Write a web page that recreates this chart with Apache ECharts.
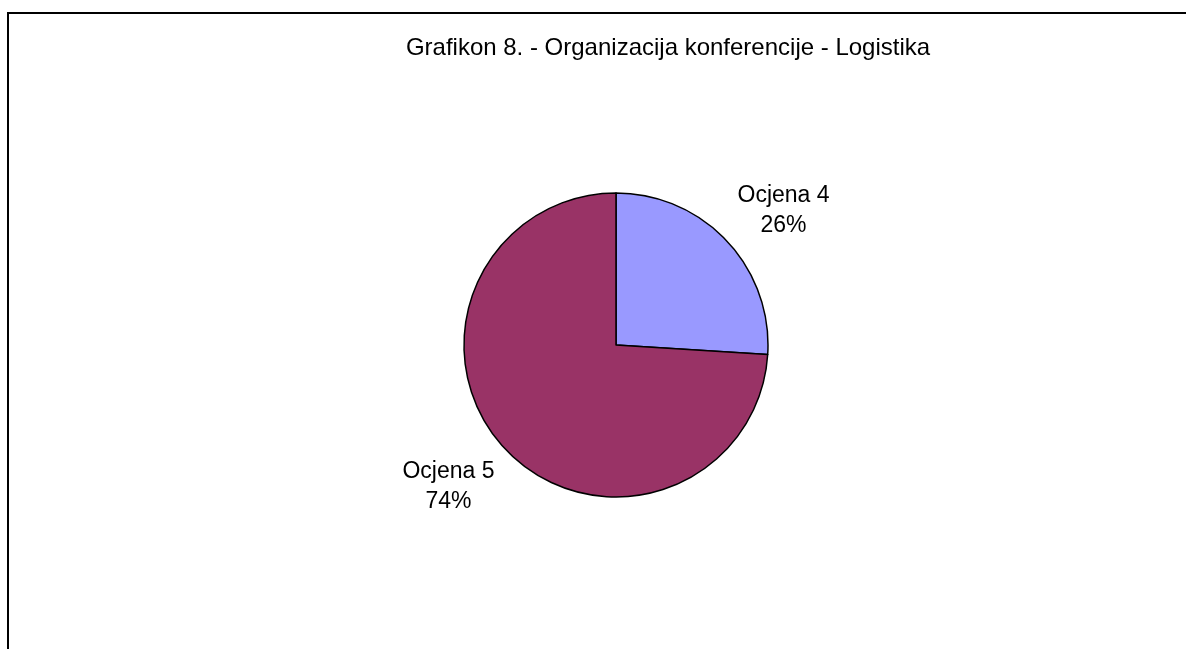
<!DOCTYPE html>
<html lang="hr">
<head>
    <meta charset="UTF-8">
    <title>Grafikon 8</title>
    <script src="https://cdn.jsdelivr.net/npm/echarts@6/dist/echarts.min.js"></script>
    <style>
        html, body { margin: 0; padding: 0; background: #fff; }
        #chart { width: 1186px; height: 649px; }
    </style>
</head>
<body>
    <div id="chart"></div>
    <script>
        // podaci
        var titleText = 'Grafikon 8. - Organizacija konferencije - Logistika';
        var categories = ['Ocjena 4', 'Ocjena 5'];
        var values = [26, 74];
        var colors = ['#9999FF', '#993366'];

        // pomaci natpisa (po kriški)
        var labelShift = [[8, 11], [-8, -3]];

        var myChart = echarts.init(document.getElementById('chart'));

        var pieData = categories.map(function (name, i) {
            return { name: name, value: values[i], itemStyle: { color: colors[i] } };
        });

        var option = {
            backgroundColor: '#fff',
            animation: false,
            title: {
                text: titleText,
                left: 663,
                top: 31,
                textAlign: 'center',
                textStyle: {
                    fontFamily: 'Liberation Sans, Arial, sans-serif',
                    fontSize: 24,
                    fontWeight: 'normal',
                    color: '#000'
                }
            },
            // okvir: samo gornja i lijeva linija
            graphic: [
                { type: 'line', shape: { x1: 8, y1: 13, x2: 1186, y2: 13 }, style: { stroke: '#000', lineWidth: 2 } },
                { type: 'line', shape: { x1: 8, y1: 12, x2: 8, y2: 649 }, style: { stroke: '#000', lineWidth: 2 } }
            ],
            series: [{
                type: 'pie',
                center: [616, 345],
                radius: 152,
                startAngle: 90,
                clockwise: true,
                data: pieData,
                itemStyle: { borderColor: '#000', borderWidth: 1.5 },
                label: {
                    show: true,
                    position: 'outside',
                    formatter: function (p) { return p.name + '\n' + Math.round(p.percent) + '%'; },
                    fontFamily: 'Liberation Sans, Arial, sans-serif',
                    fontSize: 23,
                    lineHeight: 30,
                    color: '#000'
                },
                labelLine: { show: false, length: 60, length2: 0 },
                labelLayout: function (params) {
                    var s = labelShift[params.dataIndex];
                    return { align: 'center', verticalAlign: 'middle', dx: s[0], dy: s[1] };
                },
                emphasis: { disabled: true }
            }]
        };

        myChart.setOption(option);
        window.addEventListener('resize', function () {
            myChart.resize();
        });
    </script>
</body>
</html>
